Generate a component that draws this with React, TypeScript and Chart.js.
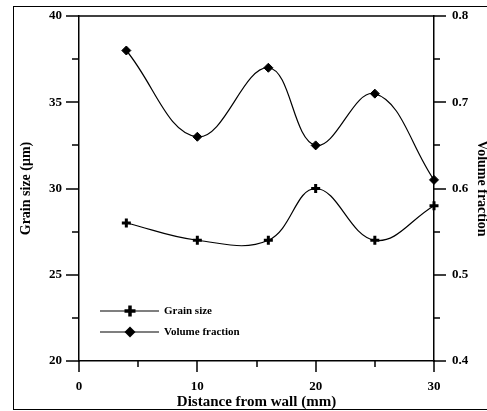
import React, { useEffect, useRef } from "react";
import { Chart, registerables } from "chart.js";

Chart.register(...registerables);

// Measured points along the distance from the wall
const distance = [4, 10, 16, 20, 25, 30];
const grainSize = [28, 27, 27, 30, 27, 29];
const volumeFraction = [0.76, 0.66, 0.74, 0.65, 0.71, 0.61];

// Minor (unlabelled) tick positions on each axis
const xMinorTicks = [5, 15, 25];
const grainMinorTicks = [22.5, 27.5, 32.5, 37.5];
const fractionMinorTicks = [0.45, 0.55, 0.65, 0.75];

const legendLabels = ["Grain size", "Volume fraction"];

const SERIF = "'Liberation Serif', 'Times New Roman', Times, serif";
const CANVAS_W = 510;
const CANVAS_H = 411;
const MAJOR_LEN = 12;
const MINOR_LEN = 6;
const AXIS_W = 1.5;

// White page, outer frame and the top edge of the plot box
const framePlugin = {
  id: "frame",
  beforeDraw(chart: any) {
    const { ctx } = chart;
    ctx.save();
    ctx.fillStyle = "#fff";
    ctx.fillRect(0, 0, chart.width, chart.height);
    ctx.strokeStyle = "#000";
    ctx.lineWidth = 1;
    ctx.strokeRect(13.5, 6.5, 600, 403);
    ctx.restore();
  },
  afterDraw(chart: any) {
    const { ctx, chartArea } = chart;
    ctx.save();
    ctx.strokeStyle = "#000";
    ctx.lineWidth = AXIS_W;
    const y = Math.round(chartArea.top);
    ctx.beginPath();
    ctx.moveTo(chartArea.left, y);
    ctx.lineTo(chartArea.right, y);
    ctx.stroke();
    ctx.restore();
  },
};

// Outward tick marks: long ones at labelled values, short ones in between
const tickMarkPlugin = {
  id: "tickMarks",
  afterDraw(chart: any) {
    const { ctx, chartArea, scales } = chart;
    const px = (v: number) => Math.round(scales.x.getPixelForValue(v));
    const pyL = (v: number) => Math.round(scales.y.getPixelForValue(v));
    const pyR = (v: number) => Math.round(scales.y1.getPixelForValue(v));
    const b = Math.round(chartArea.bottom);
    const l = Math.round(chartArea.left);
    const r = Math.round(chartArea.right);
    ctx.save();
    ctx.strokeStyle = "#000";
    ctx.lineWidth = AXIS_W;
    ctx.beginPath();
    scales.x.ticks.forEach((t: any) => {
      ctx.moveTo(px(t.value), b);
      ctx.lineTo(px(t.value), b + MAJOR_LEN - 1);
    });
    xMinorTicks.forEach((v) => {
      ctx.moveTo(px(v), b);
      ctx.lineTo(px(v), b + MINOR_LEN);
    });
    scales.y.ticks.forEach((t: any) => {
      ctx.moveTo(l, pyL(t.value));
      ctx.lineTo(l - MAJOR_LEN - 1, pyL(t.value));
    });
    grainMinorTicks.forEach((v) => {
      ctx.moveTo(l, pyL(v));
      ctx.lineTo(l - MINOR_LEN - 1, pyL(v));
    });
    scales.y1.ticks.forEach((t: any) => {
      ctx.moveTo(r, pyR(t.value));
      ctx.lineTo(r + MAJOR_LEN, pyR(t.value));
    });
    fractionMinorTicks.forEach((v) => {
      ctx.moveTo(r, pyR(v));
      ctx.lineTo(r + MINOR_LEN, pyR(v));
    });
    ctx.stroke();
    ctx.restore();
  },
};

// Legend inside the lower-left corner of the plot, with long line samples
const insideLegendPlugin = {
  id: "insideLegend",
  afterDraw(chart: any) {
    const { ctx, chartArea } = chart;
    const x0 = chartArea.left + 21;
    const x1 = chartArea.left + 80;
    const xm = chartArea.left + 51;
    const xt = chartArea.left + 85;
    const rows = [chartArea.bottom - 50, chartArea.bottom - 29];
    ctx.save();
    ctx.strokeStyle = "#000";
    ctx.fillStyle = "#000";
    rows.forEach((y, i) => {
      ctx.lineWidth = 1.2;
      ctx.beginPath();
      ctx.moveTo(x0, y);
      ctx.lineTo(x1, y);
      ctx.stroke();
      if (i === 0) {
        ctx.lineWidth = 3.5;
        ctx.beginPath();
        ctx.moveTo(xm - 5.5, y);
        ctx.lineTo(xm + 5.5, y);
        ctx.moveTo(xm, y - 5.5);
        ctx.lineTo(xm, y + 5.5);
        ctx.stroke();
      } else {
        const rr = 5.5;
        ctx.beginPath();
        ctx.moveTo(xm - rr, y);
        ctx.lineTo(xm, y - rr);
        ctx.lineTo(xm + rr, y);
        ctx.lineTo(xm, y + rr);
        ctx.closePath();
        ctx.fill();
      }
      ctx.font = `bold 11px ${SERIF}`;
      ctx.textAlign = "left";
      ctx.textBaseline = "middle";
      ctx.fillText(legendLabels[i], xt, y);
    });
    ctx.restore();
  },
};

export default function App() {
  const canvasRef = useRef<HTMLCanvasElement | null>(null);

  useEffect(() => {
    const canvas = canvasRef.current;
    if (!canvas) return;
    const tickFont = { family: SERIF, size: 13, weight: "bold" as const };
    const hiddenGrid = { display: false, drawTicks: true, tickLength: MAJOR_LEN };
    const axisBorder = { display: true, color: "#000", width: AXIS_W };

    const chart = new Chart(canvas, {
      type: "line",
      data: {
        datasets: [
          {
            label: legendLabels[0],
            data: distance.map((x, i) => ({ x, y: grainSize[i] })),
            yAxisID: "y",
            borderColor: "#000",
            borderWidth: 1.2,
            tension: 0.4,
            fill: false,
            clip: false as any,
            pointStyle: "cross",
            pointRadius: 4.5,
            pointBorderWidth: 3,
            pointBorderColor: "#000",
            pointBackgroundColor: "#000",
          },
          {
            label: legendLabels[1],
            data: distance.map((x, i) => ({ x, y: volumeFraction[i] })),
            yAxisID: "y1",
            borderColor: "#000",
            borderWidth: 1.2,
            tension: 0.4,
            fill: false,
            clip: false as any,
            pointStyle: "rectRot",
            pointRadius: 4.5,
            pointBorderWidth: 1,
            pointBorderColor: "#000",
            pointBackgroundColor: "#000",
          },
        ],
      },
      options: {
        responsive: false,
        animation: false,
        devicePixelRatio: 1,
        layout: { padding: { top: 16, left: 0, right: 0, bottom: 0 } },
        plugins: {
          legend: { display: false },
          tooltip: { enabled: false },
        },
        scales: {
          x: {
            type: "linear",
            min: 0,
            max: 30,
            ticks: { stepSize: 10, font: tickFont, color: "#000", padding: 7 },
            grid: { ...hiddenGrid, tickLength: 11 },
            border: axisBorder,
            title: {
              display: true,
              text: "Distance from wall (mm)",
              color: "#000",
              font: { family: SERIF, size: 15, weight: "bold" },
              padding: { top: 0, bottom: 0 },
            },
            afterFit: (s: any) => {
              s.height = 50;
            },
          },
          y: {
            type: "linear",
            position: "left",
            min: 20,
            max: 40,
            ticks: { stepSize: 5, font: tickFont, color: "#000", padding: 5 },
            grid: hiddenGrid,
            border: axisBorder,
            title: {
              display: true,
              text: "Grain size (\u03bcm)",
              color: "#000",
              font: { family: SERIF, size: 14, weight: "bold" },
              padding: { top: 18, bottom: 0 },
            },
            afterFit: (s: any) => {
              s.width = 79;
            },
          },
          y1: {
            type: "linear",
            position: "right",
            min: 0.4,
            max: 0.8,
            ticks: {
              stepSize: 0.1,
              font: tickFont,
              color: "#000",
              padding: 6,
              callback: (v: any) => Number(v).toFixed(1),
            },
            grid: hiddenGrid,
            border: axisBorder,
            title: {
              display: true,
              text: "Volume fraction",
              color: "#000",
              font: { family: SERIF, size: 14, weight: "bold" },
              padding: { top: 20, bottom: 0 },
            },
            afterFit: (s: any) => {
              s.width = CANVAS_W - 434;
            },
          },
        },
      },
      plugins: [framePlugin, tickMarkPlugin, insideLegendPlugin],
    });

    return () => chart.destroy();
  }, []);

  return (
    <div
      style={{
        position: "fixed",
        left: 0,
        top: 0,
        width: 487,
        height: 411,
        overflow: "hidden",
        background: "#fff",
      }}
    >
      <canvas
        ref={canvasRef}
        width={CANVAS_W}
        height={CANVAS_H}
        style={{ display: "block", width: CANVAS_W, height: CANVAS_H }}
      />
    </div>
  );
}
